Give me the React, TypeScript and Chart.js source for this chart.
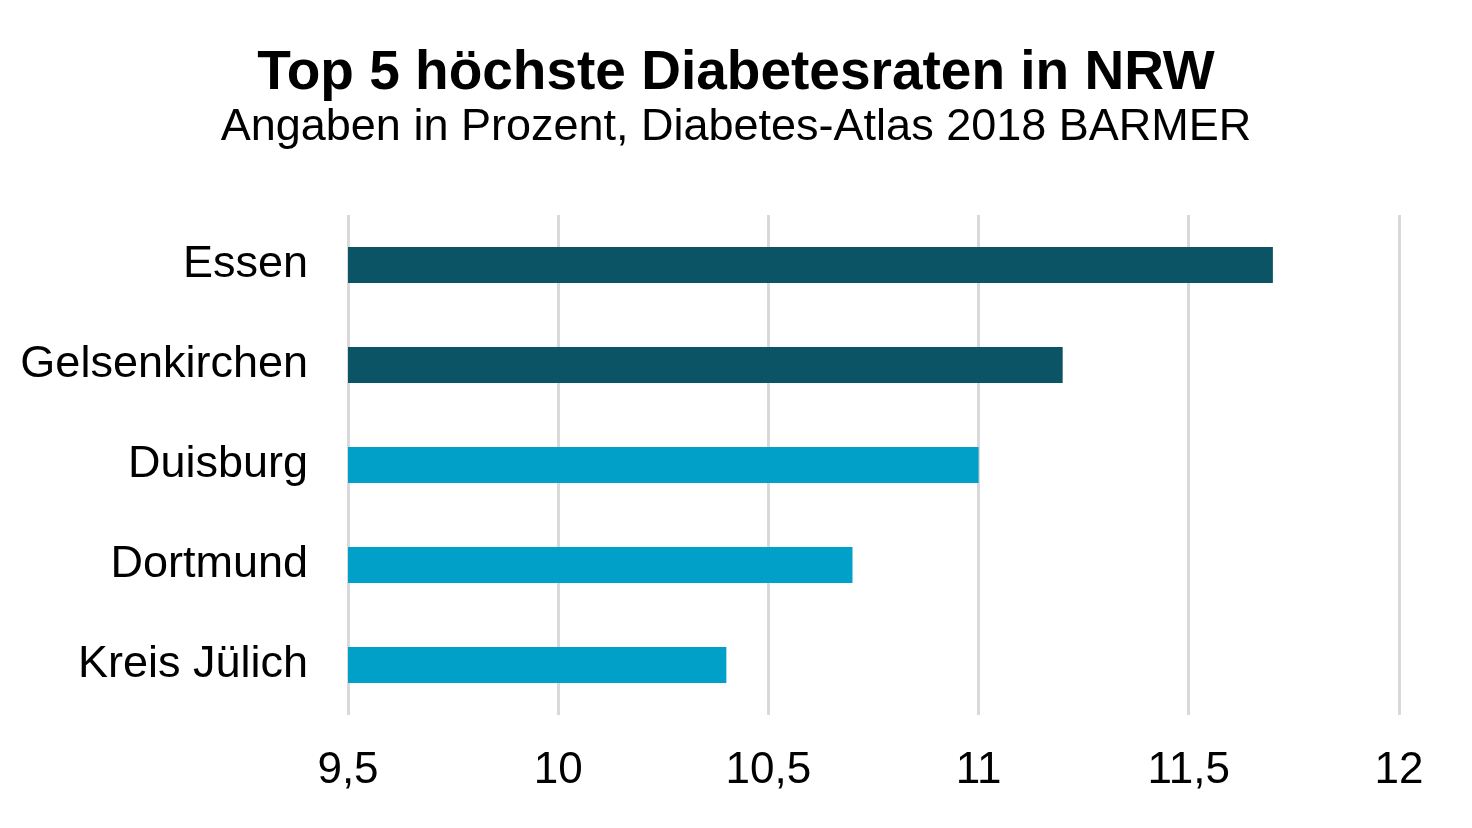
import React, { useEffect, useRef } from "react";
import { Chart, registerables } from "chart.js";

Chart.register(...registerables);

const categories = ["Essen", "Gelsenkirchen", "Duisburg", "Dortmund", "Kreis Jülich"];
const values = [11.7, 11.2, 11.0, 10.7, 10.4];
const barColors = ["#0b5466", "#0b5466", "#00a0c9", "#00a0c9", "#00a0c9"];
const titleText = "Top 5 höchste Diabetesraten in NRW";
const subtitleText = "Angaben in Prozent, Diabetes-Atlas 2018 BARMER";
const axisMin = 9.5;
const axisMax = 12;
const axisStep = 0.5;

export default function App() {
  const ref = useRef<HTMLCanvasElement | null>(null);

  useEffect(() => {
    document.body.style.margin = "0";
    const canvas = ref.current;
    if (!canvas) return;
    const font = "'Liberation Sans', Arial, sans-serif";
    const widenLabelArea = {
      id: "widenLabelArea",
      afterLayout(chart: any) {
        const y = chart.scales.y;
        if (y) y.left = 0;
      },
    };
    const chart = new Chart(canvas, {
      type: "bar",
      data: {
        labels: categories,
        datasets: [
          {
            data: values,
            backgroundColor: barColors,
            borderWidth: 0,
            barPercentage: 0.36,
            categoryPercentage: 1,
          },
        ],
      },
      plugins: [widenLabelArea],
      options: {
        indexAxis: "y",
        animation: false,
        responsive: true,
        maintainAspectRatio: false,
        devicePixelRatio: 1,
        layout: { padding: { left: 73, right: 73, top: 0, bottom: 0 } },
        plugins: {
          legend: { display: false },
          tooltip: { enabled: false },
          title: {
            display: true,
            text: titleText,
            color: "#000000",
            font: { family: font, size: 55, weight: "bold", lineHeight: 1.0 },
            padding: { top: 46, bottom: 4 },
          },
          subtitle: {
            display: true,
            text: subtitleText,
            color: "#000000",
            font: { family: font, size: 45, weight: "normal", lineHeight: 1.0 },
            padding: { top: 0, bottom: 65 },
          },
        },
        scales: {
          x: {
            type: "linear",
            min: axisMin,
            max: axisMax,
            ticks: {
              stepSize: axisStep,
              color: "#000000",
              font: { family: font, size: 44 },
              padding: 29,
              callback: (v: any) => String(v).replace(".", ","),
            },
            grid: { color: "#d9d9d9", lineWidth: 3, drawTicks: false },
            border: { display: false },
            afterFit: (scale: any) => {
              scale.height = 113;
            },
          },
          y: {
            ticks: {
              color: "#000000",
              font: { family: font, size: 45 },
              padding: 40,
            },
            grid: { display: false, drawTicks: false },
            border: { display: false },
            afterFit: (scale: any) => {
              scale.width = 275;
            },
          },
        },
      },
    });
    return () => chart.destroy();
  }, []);

  return (
    <div style={{ width: 1472, height: 828, position: "relative", background: "#ffffff" }}>
      <canvas ref={ref} />
    </div>
  );
}
